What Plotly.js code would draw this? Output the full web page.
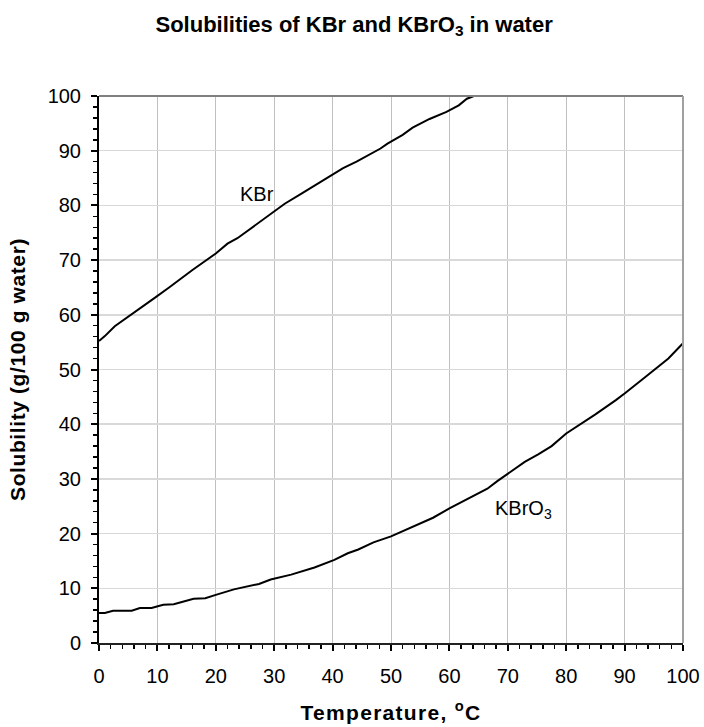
<!DOCTYPE html>
<html>
<head>
<meta charset="utf-8">
<script src="https://cdn.plot.ly/plotly-3.0.1.min.js"></script>
<style>
html,body{margin:0;padding:0;background:#fff;}
#chart{width:704px;height:727px;}
#chart .g-xtitle text{letter-spacing:1.3px;}
#chart .g-ytitle text{letter-spacing:0.6px;}
</style>
</head>
<body>
<div id="chart"></div>
<script>
// Temperature (°C) and solubility (g/100 g water)
const kbrTemp = [0, 1, 2.7, 5, 7, 9.3, 12, 13.6, 16, 20, 22, 23.7, 25, 27.4, 30, 31.8, 34.6, 36.3, 38.6, 40.3, 41.8, 44.1, 46.1, 48.2, 49.4, 52, 53.7, 56.6, 59.5, 61.6, 63, 64.2];
const kbrSol  = [55.2, 56.1, 57.9, 59.6, 61.2, 62.9, 65.0, 66.3, 68.2, 71.2, 73.0, 74.0, 75.0, 77.0, 79.0, 80.3, 82.1, 83.2, 84.6, 85.7, 86.8, 88.0, 89.2, 90.4, 91.3, 92.9, 94.2, 95.8, 97.1, 98.3, 99.5, 100];

const kbro3Temp = [0, 1, 2.4, 5.6, 7, 9, 11, 12.8, 16.2, 18.2, 20, 23.1, 27.4, 29.4, 32.9, 36.9, 40.3, 42.6, 44.4, 47, 50, 53.7, 57.2, 60, 62, 64.2, 66.5, 68.2, 70, 72.9, 75.2, 77.5, 80, 82.2, 85, 88.5, 90, 93.5, 97.5, 100];
const kbro3Sol  = [5.5, 5.5, 5.9, 5.9, 6.4, 6.4, 7.0, 7.1, 8.1, 8.2, 8.8, 9.8, 10.8, 11.6, 12.5, 13.8, 15.2, 16.4, 17.1, 18.4, 19.5, 21.3, 22.9, 24.6, 25.7, 26.9, 28.2, 29.6, 30.9, 33.1, 34.5, 36.0, 38.3, 39.8, 41.8, 44.4, 45.6, 48.6, 52.0, 54.8];

const seriesNames = ['KBr', 'KBrO<sub>3</sub>'];
const labelPos = [[27, 82], [72.7, 24.4]];

const FONT = 'Liberation Sans, Arial, Helvetica, sans-serif';

const traces = [
  {x: kbrTemp, y: kbrSol, mode: 'lines', name: 'KBr', line: {color: '#000', width: 2}, hoverinfo: 'x+y'},
  {x: kbro3Temp, y: kbro3Sol, mode: 'lines', name: 'KBrO3', line: {color: '#000', width: 2}, hoverinfo: 'x+y'}
];

const layout = {
  width: 704, height: 727, autosize: false,
  paper_bgcolor: '#fff', plot_bgcolor: '#fff',
  margin: {l: 99, r: 21, t: 96, b: 84, pad: 0},
  showlegend: false,
  font: {family: FONT, color: '#000', size: 20},
  title: {
    text: 'Solubilities of KBr and KBrO<sub>3</sub> in water',
    font: {family: FONT, size: 22, weight: 'bold', color: '#000'},
    x: 0.503, xanchor: 'center', y: 1 - 24/727, yanchor: 'middle', yref: 'container'
  },
  xaxis: {
    range: [0, 100], tick0: 0, dtick: 10, fixedrange: true,
    ticks: 'outside', ticklen: 6, tickwidth: 2, tickcolor: '#000',
    showline: true, linecolor: '#222', linewidth: 2,
    showgrid: true, gridcolor: '#c0c0c0', gridwidth: 1,
    zeroline: false,
    tickfont: {family: FONT, size: 20, color: '#000'},
    ticklabelstandoff: 8,
    minor: {dtick: 2, tick0: 0, ticks: 'outside', ticklen: 4, tickwidth: 1.5, tickcolor: '#000', showgrid: false},
    title: {text: 'Temperature, <sup>o</sup>C', font: {family: FONT, size: 21, weight: 'bold', color: '#000'}, standoff: 19},
    automargin: false
  },
  yaxis: {
    range: [0, 100], tick0: 0, dtick: 10, fixedrange: true,
    ticks: 'outside', ticklen: 6, tickwidth: 2, tickcolor: '#000',
    showline: true, linecolor: '#000', linewidth: 2,
    showgrid: true, gridcolor: '#d9d9d9', gridwidth: 1.5,
    zeroline: false,
    tickfont: {family: FONT, size: 20, color: '#000'},
    ticklabelstandoff: 6,
    minor: {dtick: 2, tick0: 0, ticks: 'outside', ticklen: 4, tickwidth: 1.5, tickcolor: '#000', showgrid: false},
    title: {text: 'Solubility (g/100 g water)', font: {family: FONT, size: 21, weight: 'bold', color: '#000'}, standoff: 16},
    automargin: false
  },
  shapes: [
    {type: 'line', xref: 'paper', yref: 'paper', x0: 0, x1: 1, y0: 1, y1: 1, line: {color: '#808080', width: 2}},
    {type: 'line', xref: 'paper', yref: 'paper', x0: 1, x1: 1, y0: 0, y1: 1, line: {color: '#a0a0a0', width: 2}}
  ],
  annotations: seriesNames.map((t, i) => ({
    x: labelPos[i][0], y: labelPos[i][1], xref: 'x', yref: 'y',
    text: t, showarrow: false, xanchor: 'center', yanchor: 'middle',
    font: {family: FONT, size: 20, color: '#000'}
  }))
};

Plotly.newPlot('chart', traces, layout, {staticPlot: true, displayModeBar: false});
</script>
</body>
</html>
